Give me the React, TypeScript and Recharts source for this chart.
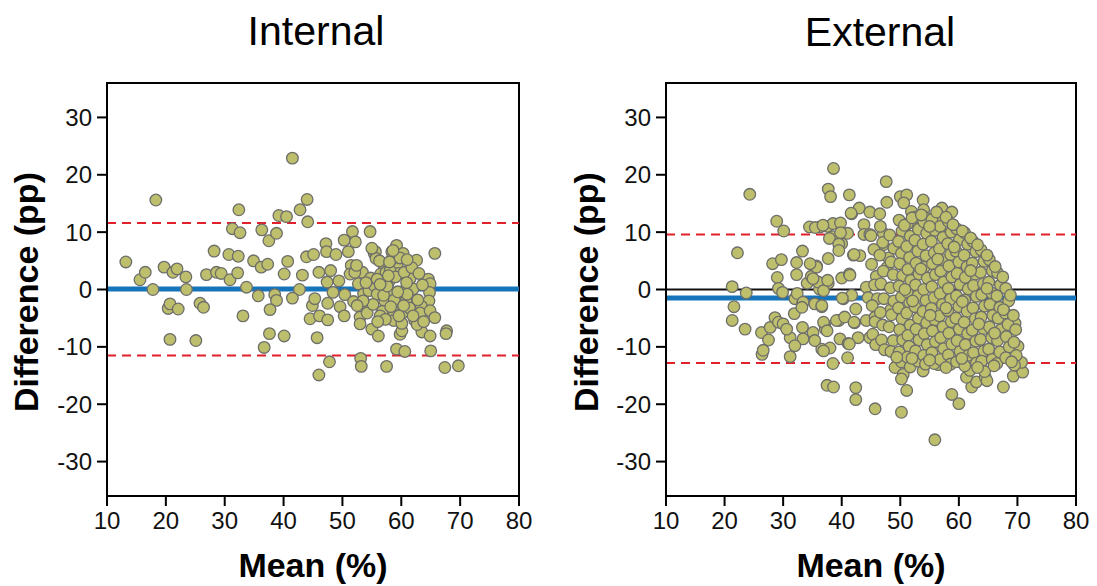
import { ReferenceArea, ReferenceLine, Scatter, ScatterChart, XAxis, YAxis } from 'recharts'

type Pt = [number, number]

const meanTicks = [10, 20, 30, 40, 50, 60, 70, 80]
const diffTicks = [-30, -20, -10, 0, 10, 20, 30]

const internalBias = 0.1
const internalLimits = [-11.5, 11.6]
const externalBias = -1.5
const externalLimits = [-12.8, 9.6]

// [mean %, difference pp]
const internalPoints: Pt[] = [
  [13.2, 4.8], [15.6, 1.7], [16.5, 3.0], [17.8, 0], [18.3, 15.6], [19.7, 3.9], [21.2, 3.0], [21.9, 3.6],
  [23.4, 2.2], [23.5, 0], [20.4, -3.3], [20.7, -2.5], [22.1, -3.4], [20.7, -8.7], [25.1, -8.9], [25.8, -2.4],
  [26.4, -3.1], [26.9, 2.6], [28.2, 6.7], [28.6, 3.0], [29.4, 2.8], [30.7, 6.1], [30.9, 1.7], [32.3, 5.8],
  [32.2, 2.9], [31.3, 10.6], [32.6, 9.9], [32.4, 13.9], [33.7, 0.4], [33.1, -4.6], [34.9, 5.0], [36.2, 3.9],
  [37.3, 4.4], [36.3, 10.4], [37.5, 8.5], [38.8, 9.8], [35.7, -1.1], [38.5, -0.9], [38.8, -1.9], [37.7, -3.5],
  [37.6, -7.7], [36.7, -10.1], [40.1, -8.1], [39.2, 12.9], [40.5, 12.7], [41.5, 22.9], [42.8, 13.9], [44.0, 15.7],
  [44.1, 11.8], [40.7, 4.9], [40.1, 2.7], [42.7, 0], [41.5, -1.5], [43.2, 2.5], [43.9, 5.7], [45.1, 6.1],
  [46.0, 3.0], [44.9, -2.8], [45.3, -1.6], [44.5, -5.1], [46.1, -4.6], [47.5, -5.3], [47.5, -2.4], [45.7, -8.4],
  [46.0, -14.9], [47.8, -12.6], [47.2, 8.0], [47.3, 6.6], [48.9, 6.1], [48.0, 3.3], [47.4, 1.3], [48.4, -0.5],
  [49.4, 1.5], [50.3, 8.6], [51.7, 10.1], [52.2, 8.3], [51.0, 6.6], [51.5, 4.2], [51.3, 2.7], [50.4, -0.9],
  [49.6, -3.0], [50.3, -4.6], [51.9, -2.1], [53.4, 3.0], [54.7, 10.1], [52.7, 1.0], [53.0, -4.8], [53.0, -6.0],
  [53.6, -0.8], [54.5, -0.2], [54.1, -2.6], [54.2, -4.1], [55.0, -6.9], [56.1, -8.1], [53.1, -12.0], [53.2, -13.4],
  [57.5, -13.4], [55.4, 6.3], [55.6, 6.6], [56.9, 4.5], [56.5, 2.7], [55.4, 0.7], [56.8, -0.3], [57.2, -2.0],
  [56.8, -3.8], [56.4, -4.6], [57.9, 1.4], [58.4, 6.6], [59.2, 7.7], [59.3, 4.2], [60.3, 6.3], [58.4, 5.3],
  [60.1, -0.5], [58.7, -3.8], [58.7, -5.4], [60.2, -4.1], [59.8, -7.8], [59.2, -10.4], [60.6, -10.8], [60.1, -7.2],
  [61.5, 1.9], [62.6, 5.1], [61.3, -1.3], [62.3, -3.0], [62.3, -5.4], [63.5, -7.4], [64.9, -8.1], [65.0, -10.7],
  [64.6, 1.8], [64.9, 1.0], [64.8, -0.5], [64.7, -2.0], [63.4, -2.9], [63.2, -4.1], [64.9, -3.7], [65.7, -4.9],
  [65.7, 6.3], [67.7, -7.2], [67.6, -7.7], [67.4, -13.6], [69.7, -13.3], [58.1, -0.5], [55.9, -0.8], [59.5, 2.8],
  [60.9, 0.3], [57.4, 3.0], [52.1, 3.0], [60.8, -2.0], [62.0, 0.1], [58.1, 3.3], [60.1, -5.9], [62.7, -6.1],
  [52.4, 4.2], [55.7, 5.4], [54.8, 2.0], [55.9, 1.8], [56.3, 5.0], [57.0, -1.0], [57.6, 0.6], [58.0, 4.8],
  [58.8, -1.8], [59.0, 2.2], [59.8, 5.5], [60.5, 3.0], [61.0, -0.8], [61.4, -3.2], [60.4, -2.8], [59.6, -4.6],
  [58.2, -3.0], [57.3, -5.2], [56.0, -5.6], [55.2, -2.6], [54.0, 1.2], [53.5, -2.0], [62.0, -4.6], [62.8, -1.8],
  [63.6, 0.8], [63.8, -5.6], [61.8, 3.8], [57.8, 2.4], [56.4, 0.9], [60.9, 1.2], [59.4, -0.4], [58.6, 6.8],
  [61.0, 5.2], [55.0, 7.2], [52.5, -2.8], [63.0, 2.8],
]

const externalOutliers: Pt[] = [
  [24.3, 16.6], [22.2, 6.4], [21.3, 0.5], [23.7, -0.6], [21.6, -3.0], [21.3, -5.4], [23.5, -6.9], [26.3, -7.5],
  [27.5, -8.8], [26.4, -11.3], [26.6, -10.6], [27.8, -6.6], [28.6, -4.9], [29.2, -5.7], [28.9, 11.9], [30.1, 10.2],
  [28.2, 4.5], [29.7, 5.2], [29.0, 2.1], [29.2, 0.2], [29.9, -0.5], [30.0, -6.0], [31.2, -8.4], [31.2, -11.7],
  [30.6, -6.9], [31.9, -4.2], [32.3, 4.7], [32.3, 2.6], [33.3, 6.7], [32.0, -1.6], [32.4, -0.7], [33.3, -2.5],
  [33.3, -6.6], [33.4, -8.6], [32.0, -9.8], [34.5, 10.9], [34.1, 1.1], [34.8, 2.3], [35.7, 4.1], [35.4, -2.5],
  [36.6, -3.0], [35.1, -7.5], [36.6, -10.4], [38.0, -10.2], [36.3, 10.9], [37.6, 11.0], [37.7, 17.5], [38.1, 16.2],
  [38.6, 21.1], [38.5, 11.5], [39.8, 11.6], [38.5, 9.2], [37.7, 5.4], [37.7, 1.1], [36.2, 0.1], [37.1, -6.1],
  [37.2, -6.9], [37.5, -16.7], [38.6, -17.0], [38.5, -12.9], [39.5, -5.4], [39.7, -8.6], [40.0, 2.0], [40.0, 8.0],
  [41.0, 9.8], [41.3, 16.5], [41.3, 2.7], [40.3, -1.6], [41.7, -1.0], [41.1, -9.4], [41.0, -11.9], [42.4, -17.1],
  [42.4, -19.2], [41.7, 13.2], [43.0, 14.2], [42.0, 6.0], [43.1, 5.9], [42.4, -3.4], [42.2, -5.8], [42.8, -8.4],
  [43.8, 11.3], [43.8, 9.6], [44.8, 13.5], [44.8, 9.6], [44.2, 0.4], [44.5, -1.4], [44.2, -5.4], [44.8, -8.4],
  [45.7, -20.8], [45.7, -4.8], [46.1, -1.6], [45.9, 2.3], [46.5, 13.2], [47.6, 18.8], [47.7, 15.2], [47.1, 9.8],
  [47.1, 7.8], [48.0, 5.5], [47.7, 3.8], [48.4, -3.5], [49.1, -13.6], [50.5, -14.8], [50.2, -15.6], [51.1, -17.6],
  [50.2, -21.4], [55.9, -26.2], [58.8, -18.3], [60.0, -19.9], [67.6, -17.0], [69.3, -15.1], [70.9, -14.4], [70.7, -12.7],
  [70.1, -9.9], [69.6, -5.9], [50.0, 16.2], [51.1, 16.5], [50.6, 15.1], [53.9, 15.6], [54.0, 13.9], [54.4, 12.5],
  [57.1, 14.2], [58.8, 13.5], [56.5, 12.8], [51.9, 13.6], [51.9, 11.9], [33.4, -2.2], [33.2, -3.1], [35.4, -8.9],
  [36.9, -10.7], [35.7, 3.9], [36.0, 1.3], [35.1, 1.9], [36.9, -0.2], [36.6, -2.8], [34.6, 4.5], [37.6, 1.6],
  [40.1, -1.5], [36.9, -5.7], [37.5, -7.2], [39.1, -5.4], [40.5, -4.8], [42.1, -5.7], [41.3, -9.5], [41.6, 13.3],
  [35.5, 10.8], [36.8, 11.2], [39.8, 9.9], [37.9, 8.9], [39.5, 7.9], [39.5, 6.8], [42.1, 6.1], [41.4, 2.5],
  [53.9, -14.2], [56.5, -13.1], [62.2, -17.0], [63.0, -16.1], [64.5, -15.3], [64.8, -15.9], [61.3, -15.3], [61.9, -14.1],
]

const externalCore: Pt[] = [
  [45.0, 9.4], [45.5, 7.0], [45.1, 4.4], [45.6, 0.8], [45.2, -2.8], [45.7, -5.6], [45.3, -7.8], [45.8, -9.6],
  [46.6, 11.0], [47.0, 8.2], [46.5, 6.0], [47.1, 3.2], [46.7, 1.0], [47.2, -1.6], [46.6, -4.0], [47.0, -6.2], [46.8, -8.8], [47.3, -10.5],
  [48.2, 9.5], [48.9, 7.2], [48.4, 4.8], [48.8, 2.6], [48.3, 0.3], [48.9, -2.0], [48.5, -4.4], [48.1, -6.5], [48.8, -8.9], [48.4, -10.8],
  [49.8, 12.1], [50.3, 10.2], [49.7, 8.4], [50.2, 6.3], [49.9, 4.5], [50.4, 2.4], [49.8, 0.6], [50.2, -1.3], [49.7, -3.2],
  [50.3, -5.1], [49.9, -7.0], [50.4, -8.8], [49.8, -10.9], [50.2, -12.6],
  [51.2, 11.4], [51.7, 9.3], [51.1, 7.5], [51.6, 5.6], [51.3, 3.5], [51.8, 1.6], [51.2, -0.4], [51.6, -2.3], [51.1, -4.1],
  [51.7, -6.2], [51.3, -8.0], [51.5, -9.9], [51.2, -11.8], [51.7, -13.5],
  [52.6, 12.6], [53.1, 10.5], [52.5, 8.6], [53.0, 6.7], [52.7, 4.6], [53.2, 2.7], [52.6, 0.8], [53.0, -1.1], [52.5, -3.0],
  [53.1, -5.0], [52.7, -6.9], [53.2, -8.8], [52.6, -10.7], [53.0, -12.5],
  [54.0, 11.8], [54.5, 9.8], [53.9, 7.9], [54.4, 5.9], [54.1, 3.9], [54.6, 2.0], [54.0, 0.0], [54.4, -1.9], [53.9, -3.8],
  [54.5, -5.8], [54.1, -7.7], [54.6, -9.6], [54.0, -11.5], [54.3, -13.0],
  [55.4, 12.2], [55.9, 10.3], [55.3, 8.4], [55.8, 6.4], [55.5, 4.5], [56.0, 2.6], [55.4, 0.5], [55.8, -1.4], [55.3, -3.3],
  [55.9, -5.3], [55.5, -7.2], [56.0, -9.1], [55.4, -11.0], [55.8, -12.9],
  [56.8, 11.0], [57.3, 9.1], [56.7, 7.1], [57.2, 5.2], [56.9, 3.2], [57.4, 1.3], [56.8, -0.7], [57.2, -2.6], [56.7, -4.6],
  [57.3, -6.5], [56.9, -8.4], [57.4, -10.3], [56.8, -12.2],
  [58.2, 11.9], [58.7, 10.0], [58.1, 8.0], [58.6, 6.1], [58.3, 4.1], [58.8, 2.2], [58.2, 0.2], [58.6, -1.7], [58.1, -3.7],
  [58.7, -5.6], [58.3, -7.6], [58.8, -9.5], [58.2, -11.4], [58.6, -13.0],
  [59.6, 10.6], [60.1, 8.7], [59.5, 6.7], [60.0, 4.8], [59.7, 2.8], [60.2, 0.9], [59.6, -1.1], [60.0, -3.0], [59.5, -5.0],
  [60.1, -6.9], [59.7, -8.9], [60.2, -10.8], [59.6, -12.6],
  [61.0, 9.9], [61.5, 7.9], [60.9, 6.0], [61.4, 4.0], [61.1, 2.1], [61.6, 0.1], [61.0, -1.8], [61.4, -3.8], [60.9, -5.7],
  [61.5, -7.7], [61.1, -9.6], [61.6, -11.5], [61.0, -13.3],
  [62.4, 8.4], [62.9, 6.6], [62.3, 4.6], [62.8, 2.7], [62.5, 0.7], [63.0, -1.2], [62.4, -3.2], [62.8, -5.1], [62.3, -7.1],
  [62.9, -9.0], [62.5, -11.0], [63.0, -12.8],
  [63.8, 6.9], [64.3, 4.9], [63.7, 3.0], [64.2, 1.0], [63.9, -0.9], [64.4, -2.9], [63.8, -4.8], [64.2, -6.8], [63.7, -8.7],
  [64.3, -10.7], [63.9, -12.5], [64.4, -14.3],
  [65.2, 5.2], [65.7, 3.3], [65.1, 1.3], [65.6, -0.6], [65.3, -2.6], [65.8, -4.5], [65.2, -6.5], [65.6, -8.4], [65.1, -10.4], [65.7, -12.2],
  [66.6, 2.9], [67.1, 0.8], [66.5, -1.1], [67.0, -3.1], [66.7, -5.0], [67.2, -7.0], [66.6, -8.9], [67.0, -10.9], [66.5, -12.9],
  [68.0, 0.2], [68.5, -2.0], [67.9, -4.1], [68.4, -6.1], [68.1, -8.2], [68.6, -10.0], [68.0, -11.9],
  [69.3, -4.5], [69.7, -7.0], [69.4, -9.2], [69.8, -11.5], [69.5, -13.2],
  [50.7, 11.2], [52.0, 12.5], [53.6, 13.0], [55.0, 11.0], [56.2, 13.5], [57.8, 12.6], [59.0, 11.3], [60.6, 10.2],
  [62.0, 9.0], [63.2, 7.8], [64.8, 6.0], [66.2, 4.0], [67.5, 2.2], [68.8, -1.0], [50.8, 0.0], [52.1, -2.0],
  [53.5, 3.6], [55.1, -4.5], [56.4, 5.3], [57.8, -3.2], [59.2, 7.4], [60.6, -2.1], [62.0, 3.3], [63.4, -6.0],
  [64.8, 0.2], [66.1, -7.6], [67.6, -3.5], [52.0, -12.0], [55.0, -12.3], [57.8, -13.6], [60.5, -12.0], [63.2, -13.6],
  [66.0, -13.3], [69.0, -12.6], [49.4, -11.8],
]

const FONT = '"Liberation Sans", Arial, sans-serif'
const DOT_FILL = '#BEBF6C'
const DOT_STROKE = '#6E6E6A'

const dot = (p: any) => <circle cx={p.cx} cy={p.cy} r={5.8} fill={DOT_FILL} stroke={DOT_STROKE} strokeWidth={1.3} />

interface PanelProps {
  points: Pt[]
  bias: number
  limits: number[]
  showZero: boolean
  width: number
  margin: { top: number; right: number; bottom: number; left: number }
}

function BlandAltmanPanel({ points, bias, limits, showZero, width, margin }: PanelProps) {
  const data = points.map(([mean, diff]) => ({ mean, diff }))
  const tick = { fontSize: 24, fill: '#111', fontFamily: FONT }
  return (
    <ScatterChart width={width} height={586} margin={margin}>
      <XAxis
        type="number"
        dataKey="mean"
        domain={[10, 80]}
        ticks={meanTicks}
        allowDataOverflow
        height={40}
        tick={tick}
        tickSize={10}
        tickMargin={6}
        axisLine={{ stroke: '#000', strokeWidth: 2 }}
        tickLine={{ stroke: '#000', strokeWidth: 2 }}
      />
      <YAxis
        type="number"
        dataKey="diff"
        domain={[-36, 36]}
        ticks={diffTicks}
        allowDataOverflow
        width={50}
        tick={tick}
        tickSize={10}
        tickMargin={5}
        axisLine={{ stroke: '#000', strokeWidth: 2 }}
        tickLine={{ stroke: '#000', strokeWidth: 2 }}
      />
      <ReferenceArea x1={10} x2={80} y1={-36} y2={36} fill="none" stroke="#000" strokeWidth={2} />
      {showZero && <ReferenceLine y={0} stroke="#111" strokeWidth={2} />}
      <ReferenceLine y={bias} stroke="#1674BA" strokeWidth={5} />
      {limits.map((l) => (
        <ReferenceLine key={l} y={l} stroke="#E0202A" strokeWidth={2} strokeDasharray="9 6" />
      ))}
      <Scatter data={data} shape={dot} isAnimationActive={false} />
    </ScatterChart>
  )
}

export default function App() {
  return (
    <div style={{ position: 'absolute', left: 0, top: 0, width: 1097, height: 586, background: '#fff', fontFamily: FONT }}>
      <div style={{ position: 'absolute', left: 0, top: 0 }}>
        <BlandAltmanPanel
          points={internalPoints}
          bias={internalBias}
          limits={internalLimits}
          showZero={false}
          width={548}
          margin={{ top: 83, right: 29, bottom: 50, left: 57 }}
        />
      </div>
      <div style={{ position: 'absolute', left: 548, top: 0 }}>
        <BlandAltmanPanel
          points={[...externalOutliers, ...externalCore]}
          bias={externalBias}
          limits={externalLimits}
          showZero
          width={549}
          margin={{ top: 83, right: 21, bottom: 50, left: 68 }}
        />
      </div>
      <svg width={1097} height={586} style={{ position: 'absolute', left: 0, top: 0, pointerEvents: 'none' }}>
        <g fontFamily={FONT} fill="#000">
          <text x={316} y={45} fontSize={41} textAnchor="middle">Internal</text>
          <text x={880} y={46} fontSize={41} textAnchor="middle">External</text>
          <text x={313} y={577} fontSize={34} fontWeight="bold" textAnchor="middle">Mean (%)</text>
          <text x={871} y={577} fontSize={34} fontWeight="bold" textAnchor="middle">Mean (%)</text>
          <text x={38} y={292} fontSize={34} fontWeight="bold" textAnchor="middle" transform="rotate(-90 38 292)">Difference (pp)</text>
          <text x={598} y={292} fontSize={34} fontWeight="bold" textAnchor="middle" transform="rotate(-90 598 292)">Difference (pp)</text>
        </g>
      </svg>
    </div>
  )
}
